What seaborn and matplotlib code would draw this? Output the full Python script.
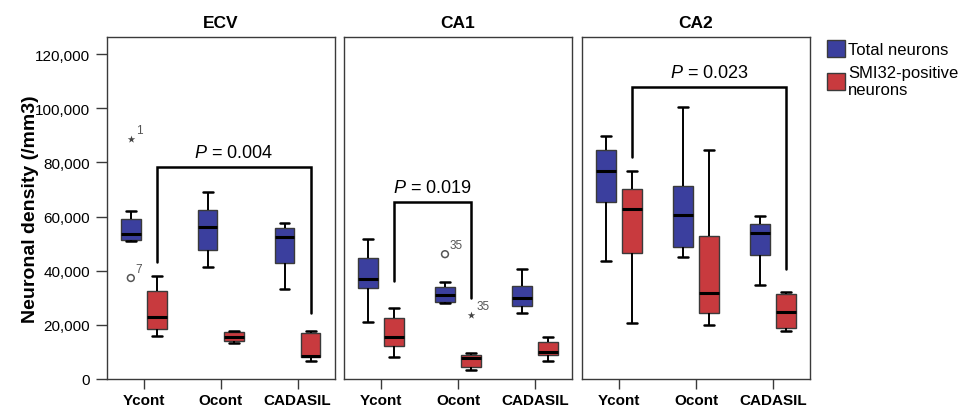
import numpy as np
import pandas as pd
import matplotlib
matplotlib.use("Agg")
import matplotlib.pyplot as plt
from matplotlib.patches import Patch
from matplotlib.ticker import StrMethodFormatter
import seaborn as sns

# ---------- data (five-number summaries) ----------
regions = ["ECV", "CA1", "CA2"]
groups = ["Ycont", "Ocont", "CADASIL"]
types = ["Total neurons", "SMI32-positive\nneurons"]

# [min, Q1, median, Q3, max] per group, order Ycont, Ocont, CADASIL
ecv_total = [[51000, 51400, 53500, 59000, 62100],
             [41300, 47700, 56100, 62300, 69000],
             [33200, 42800, 52400, 55700, 57600]]
ecv_smi32 = [[15900, 18500, 22900, 32500, 38100],
             [13200, 14200, 15500, 17300, 17800],
             [6800, 8100, 8600, 16900, 17800]]
ca1_total = [[20900, 33700, 36900, 44700, 51700],
             [28100, 28300, 31000, 34100, 35900],
             [24300, 27100, 29900, 34200, 40600]]
ca1_smi32 = [[8000, 12300, 15400, 22400, 26100],
             [3400, 4300, 7600, 8900, 9500],
             [6500, 8900, 9800, 13500, 15400]]
ca2_total = [[43700, 65500, 76700, 84500, 89600],
             [44900, 48600, 60700, 71100, 100300],
             [34700, 45900, 53800, 57200, 60100]]
ca2_smi32 = [[20600, 46500, 62800, 70200, 76700],
             [19900, 24300, 31800, 52700, 84700],
             [17600, 18800, 24800, 31400, 32000]]

# outliers: region, group, type index, value, marker, case label
out_region = ["ECV", "ECV", "CA1", "CA1"]
out_group = ["Ycont", "Ycont", "Ocont", "Ocont"]
out_type = [0, 0, 0, 1]
out_value = [88600, 37300, 46100, 23600]
out_marker = ["*", "o", "o", "*"]
out_label = ["1", "7", "35", "35"]

# significance brackets (between SMI32-positive boxes)
br_from = ["Ycont", "Ycont", "Ycont"]
br_to = ["CADASIL", "Ocont", "CADASIL"]
br_top = [78200, 65300, 107700]
br_leg_left = [43200, 36300, 81800]
br_leg_right = [24300, 29900, 40600]
br_text = ["0.004", "0.019", "0.023"]

# ---------- long table ----------
summaries = {"ECV": [ecv_total, ecv_smi32],
             "CA1": [ca1_total, ca1_smi32],
             "CA2": [ca2_total, ca2_smi32]}
rows = []
for r in regions:
    for t, series in zip(types, summaries[r]):
        for g, vals in zip(groups, series):
            for v in vals:
                rows.append((r, g, t, v))
df = pd.DataFrame(rows, columns=["region", "group", "type", "value"])

# ---------- style ----------
sns.set_style("ticks")
plt.rcParams["font.family"] = ["Liberation Sans", "DejaVu Sans"]
plt.rcParams["mathtext.fontset"] = "custom"
plt.rcParams["mathtext.it"] = "Liberation Sans:italic"
plt.rcParams["mathtext.rm"] = "Liberation Sans"
plt.rcParams["text.color"] = "black"
plt.rcParams["axes.labelcolor"] = "black"
plt.rcParams["xtick.labelcolor"] = "black"
plt.rcParams["ytick.labelcolor"] = "black"

BLUE = "#3b3f9e"
RED = "#c83a3e"
EDGE = "#3a3a3a"
OFFSET = 0.17

fig = plt.figure(figsize=(9.69, 4.14), dpi=100)
lefts = [107 / 969, 344.3 / 969, 582.3 / 969]
ax_w = 227.5 / 969
ax_b = 1 - 380 / 414
ax_h = (380 - 38) / 414

for i, r in enumerate(regions):
    ax = fig.add_axes([lefts[i], ax_b, ax_w, ax_h])
    sns.boxplot(data=df[df.region == r], x="group", y="value", hue="type",
                order=groups, hue_order=types, palette=[BLUE, RED],
                saturation=1, width=0.68, gap=0.25, whis=np.inf,
                showfliers=False, linecolor=EDGE, linewidth=1,
                medianprops=dict(color="black", linewidth=2.2),
                whiskerprops=dict(color="black", linewidth=1.4),
                capprops=dict(color="black", linewidth=1.8),
                legend=False, ax=ax)

    # outliers with case numbers
    for reg, g, ti, v, m, lab in zip(out_region, out_group, out_type,
                                     out_value, out_marker, out_label):
        if reg != r:
            continue
        x = groups.index(g) + (OFFSET if ti == 1 else -OFFSET)
        if m == "o":
            ax.scatter(x, v, s=24, marker="o", facecolors="none",
                       edgecolors="#555555", linewidths=1.1, zorder=4)
        else:
            ax.scatter(x, v, s=32, marker="*", color="#444444",
                       linewidths=0, zorder=4)
        ax.annotate(lab, (x, v), xytext=(5, 9), textcoords="offset pixels",
                    fontsize=8.5, color="#555555", ha="left", va="center")

    # significance bracket
    x1 = groups.index(br_from[i]) + OFFSET
    x2 = groups.index(br_to[i]) + OFFSET
    ax.plot([x1, x1, x2, x2],
            [br_leg_left[i], br_top[i], br_top[i], br_leg_right[i]],
            color="black", linewidth=1.8, solid_joinstyle="miter", zorder=3)
    ax.text((x1 + x2) / 2, br_top[i] + 2300, r"$\it{P}$ = " + br_text[i],
            ha="center", va="bottom", fontsize=13)

    ax.set_xlim(-0.48, 2.48)
    ax.set_ylim(0, 126300)
    ax.set_title(r, fontsize=12.5, fontweight="bold", pad=7)
    ax.set_xlabel("")
    ax.tick_params(axis="x", length=7, width=1, color=EDGE, pad=3,
                   labelsize=11)
    for lab in ax.get_xticklabels():
        lab.set_fontweight("bold")
    for s in ax.spines.values():
        s.set_visible(True)
        s.set_color(EDGE)
        s.set_linewidth(1)
    if i == 0:
        ax.set_yticks(np.arange(0, 120001, 20000))
        ax.yaxis.set_major_formatter(StrMethodFormatter("{x:,.0f}"))
        ax.tick_params(axis="y", length=8, width=1, color=EDGE, pad=4,
                       labelsize=11)
        ax.set_ylabel("Neuronal density (/mm3)", fontsize=14,
                      fontweight="bold")
        ax.yaxis.set_label_coords(-0.30, 0.5)
    else:
        ax.set_yticks([])
        ax.set_ylabel("")

handles = [Patch(facecolor=BLUE, edgecolor=EDGE, linewidth=1),
           Patch(facecolor=RED, edgecolor=EDGE, linewidth=1)]
fig.legend(handles, types, loc="upper left",
           bbox_to_anchor=(827 / 969, 1 - 41 / 414), frameon=False,
           fontsize=12, handlelength=1.1, handleheight=1.2,
           handletextpad=0.15, labelspacing=0.45, borderpad=0,
           borderaxespad=0)

fig.savefig("out.png", dpi=100)
